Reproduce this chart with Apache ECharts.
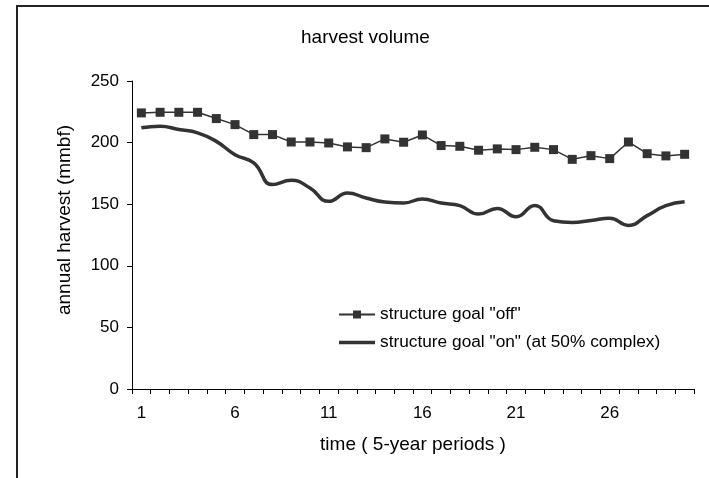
<!DOCTYPE html>
<html>
<head>
<meta charset="utf-8">
<script src="https://cdn.jsdelivr.net/npm/echarts@6/dist/echarts.min.js"></script>
<style>
html,body{margin:0;padding:0;background:#fff;}
#chart{width:709px;height:478px;}
</style>
</head>
<body>
<div id="chart"></div>
<script>
var periods = [];
for (var i = 1; i <= 30; i++) periods.push(String(i));
var goalOff = [224.1, 224.6, 224.6, 224.6, 219.5, 214.6, 206.5, 206.5, 200.5, 200.5,
               199.7, 196.5, 195.9, 203.0, 200.3, 206.2, 197.6, 197.0, 193.8, 194.9,
               194.3, 196.2, 194.3, 186.4, 189.4, 187.0, 200.5, 191.0, 189.2, 190.5];
var goalOn = [212.0, 213.3, 210.6, 207.9, 201.0, 190.2, 183.5, 165.9, 169.4, 163.2,
              152.3, 159.1, 155.0, 151.8, 151.0, 154.2, 151.0, 148.8, 142.0, 146.6,
              139.8, 149.0, 136.6, 135.2, 136.8, 138.5, 132.8, 140.7, 148.8, 152.0];
var seriesNames = ['structure goal "off"', 'structure goal "on" (at 50% complex)'];

var FONT = '"Liberation Sans", Arial, sans-serif';
var chart = echarts.init(document.getElementById('chart'), null, {renderer: 'canvas'});
chart.setOption({
  animation: false,
  backgroundColor: '#ffffff',
  textStyle: {fontFamily: FONT, color: '#000'},
  title: {
    text: 'harvest volume',
    left: 301, top: 28, padding: 0,
    textStyle: {fontFamily: FONT, fontSize: 19, fontWeight: 'normal', color: '#000'}
  },
  graphic: [{
    type: 'polyline',
    shape: {points: [[17, 478], [17, 6], [709, 6]]},
    style: {stroke: '#222', lineWidth: 2, fill: null}
  }],
  legend: {
    orient: 'vertical',
    left: 338, top: 306, padding: 0,
    itemWidth: 36, itemHeight: 10, itemGap: 11,
    textStyle: {fontFamily: FONT, fontSize: 17.3, color: '#000'},
    data: [
      {name: seriesNames[0]},
      {name: seriesNames[1], icon: 'path://M0,0H36V3.5H0Z'}
    ]
  },
  grid: {left: 132, right: 15, top: 81, bottom: 89, containLabel: false},
  xAxis: {
    type: 'category',
    data: periods,
    boundaryGap: true,
    name: 'time ( 5-year periods )',
    nameLocation: 'middle',
    nameGap: 46,
    nameTextStyle: {fontFamily: FONT, fontSize: 19, color: '#000'},
    axisLine: {lineStyle: {color: '#000', width: 1}},
    axisTick: {show: true, interval: 0, length: 5, inside: false, lineStyle: {color: '#000'}},
    axisLabel: {interval: 4, margin: 16, fontFamily: FONT, fontSize: 17, color: '#000'},
    splitLine: {show: false}
  },
  yAxis: {
    type: 'value',
    min: 0, max: 250, interval: 50,
    name: 'annual harvest (mmbf)',
    nameLocation: 'middle',
    nameGap: 58,
    nameTextStyle: {fontFamily: FONT, fontSize: 19, color: '#000', padding: [0, 0, 0, 30]},
    axisLine: {show: true, lineStyle: {color: '#000', width: 1}},
    axisTick: {show: true, length: 5, lineStyle: {color: '#000'}},
    axisLabel: {margin: 13, fontFamily: FONT, fontSize: 17, color: '#000'},
    splitLine: {show: false}
  },
  series: [{
    name: seriesNames[0],
    type: 'line',
    data: goalOff,
    symbol: 'rect',
    symbolSize: 9,
    showAllSymbol: true,
    lineStyle: {color: '#333', width: 1.5},
    itemStyle: {color: '#333'}
  }, {
    name: seriesNames[1],
    type: 'line',
    data: goalOn,
    symbol: 'none',
    smooth: 0.5,
    lineStyle: {color: '#333', width: 3.5},
    itemStyle: {color: '#333'}
  }]
});
</script>
</body>
</html>
